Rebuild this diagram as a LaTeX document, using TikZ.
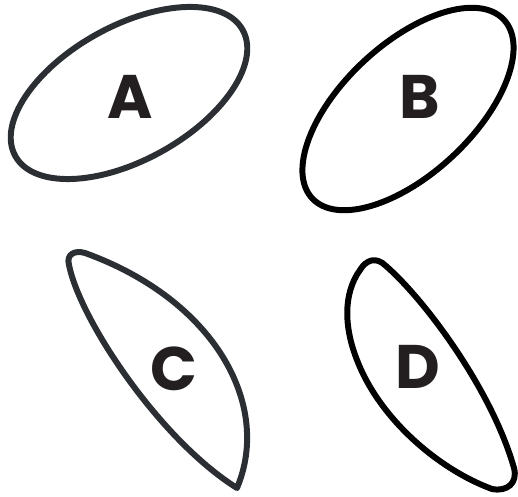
\documentclass[tikz,border=0pt]{standalone}
\usepackage{fontspec}
\setmainfont{Poppins}
\usepackage{xcolor}
\usepackage{tikz}
\usetikzlibrary{positioning}
\definecolor{darkline}{HTML}{2B2F33}
\definecolor{letterink}{HTML}{231F20}
\tikzset{
  outline/.style={line width=3.4pt, line join=round, line cap=round},
  letter/.style ={text=letterink, inner sep=0pt,
                  font=\fontsize{35}{40}\selectfont\bfseries}
}

\begin{document}
\begin{tikzpicture}[x=0.02cm, y=0.02cm]
  \useasboundingbox (0,0) rectangle (518,497);

  % A: wide ellipse
  \draw[outline, darkline] (129,404) ellipse [x radius=130, y radius=67, rotate=29];
  \node[letter] (labA) at (130,400) {A};

  % B: steeper ellipse
  \draw[outline, black] (408,388) ellipse [x radius=131, y radius=65, rotate=43];
  \node[letter] (labB) at (420,400) {B};

  % C: leaf
  \draw[outline, darkline] (85,244) .. controls (75,247) and (66,243) .. (69,232)
    .. controls (80,177) and (160,57) .. (237,9)
    .. controls (272,92) and (215,197) .. (85,244) -- cycle;
  \node[letter] (labC) at (174,128) {C};

  % D: leaf
  \draw[outline, black] (386,231) .. controls (425,197) and (492,107) .. (514,29)
    .. controls (518,14) and (507,5) .. (492,8)
    .. controls (440,27) and (380,77) .. (357,137)
    .. controls (345,167) and (342,202) .. (360,227)
    .. controls (366,237) and (376,241) .. (386,231) -- cycle;
  \node[letter] (labD) at (418,130) {D};
\end{tikzpicture}
\end{document}
